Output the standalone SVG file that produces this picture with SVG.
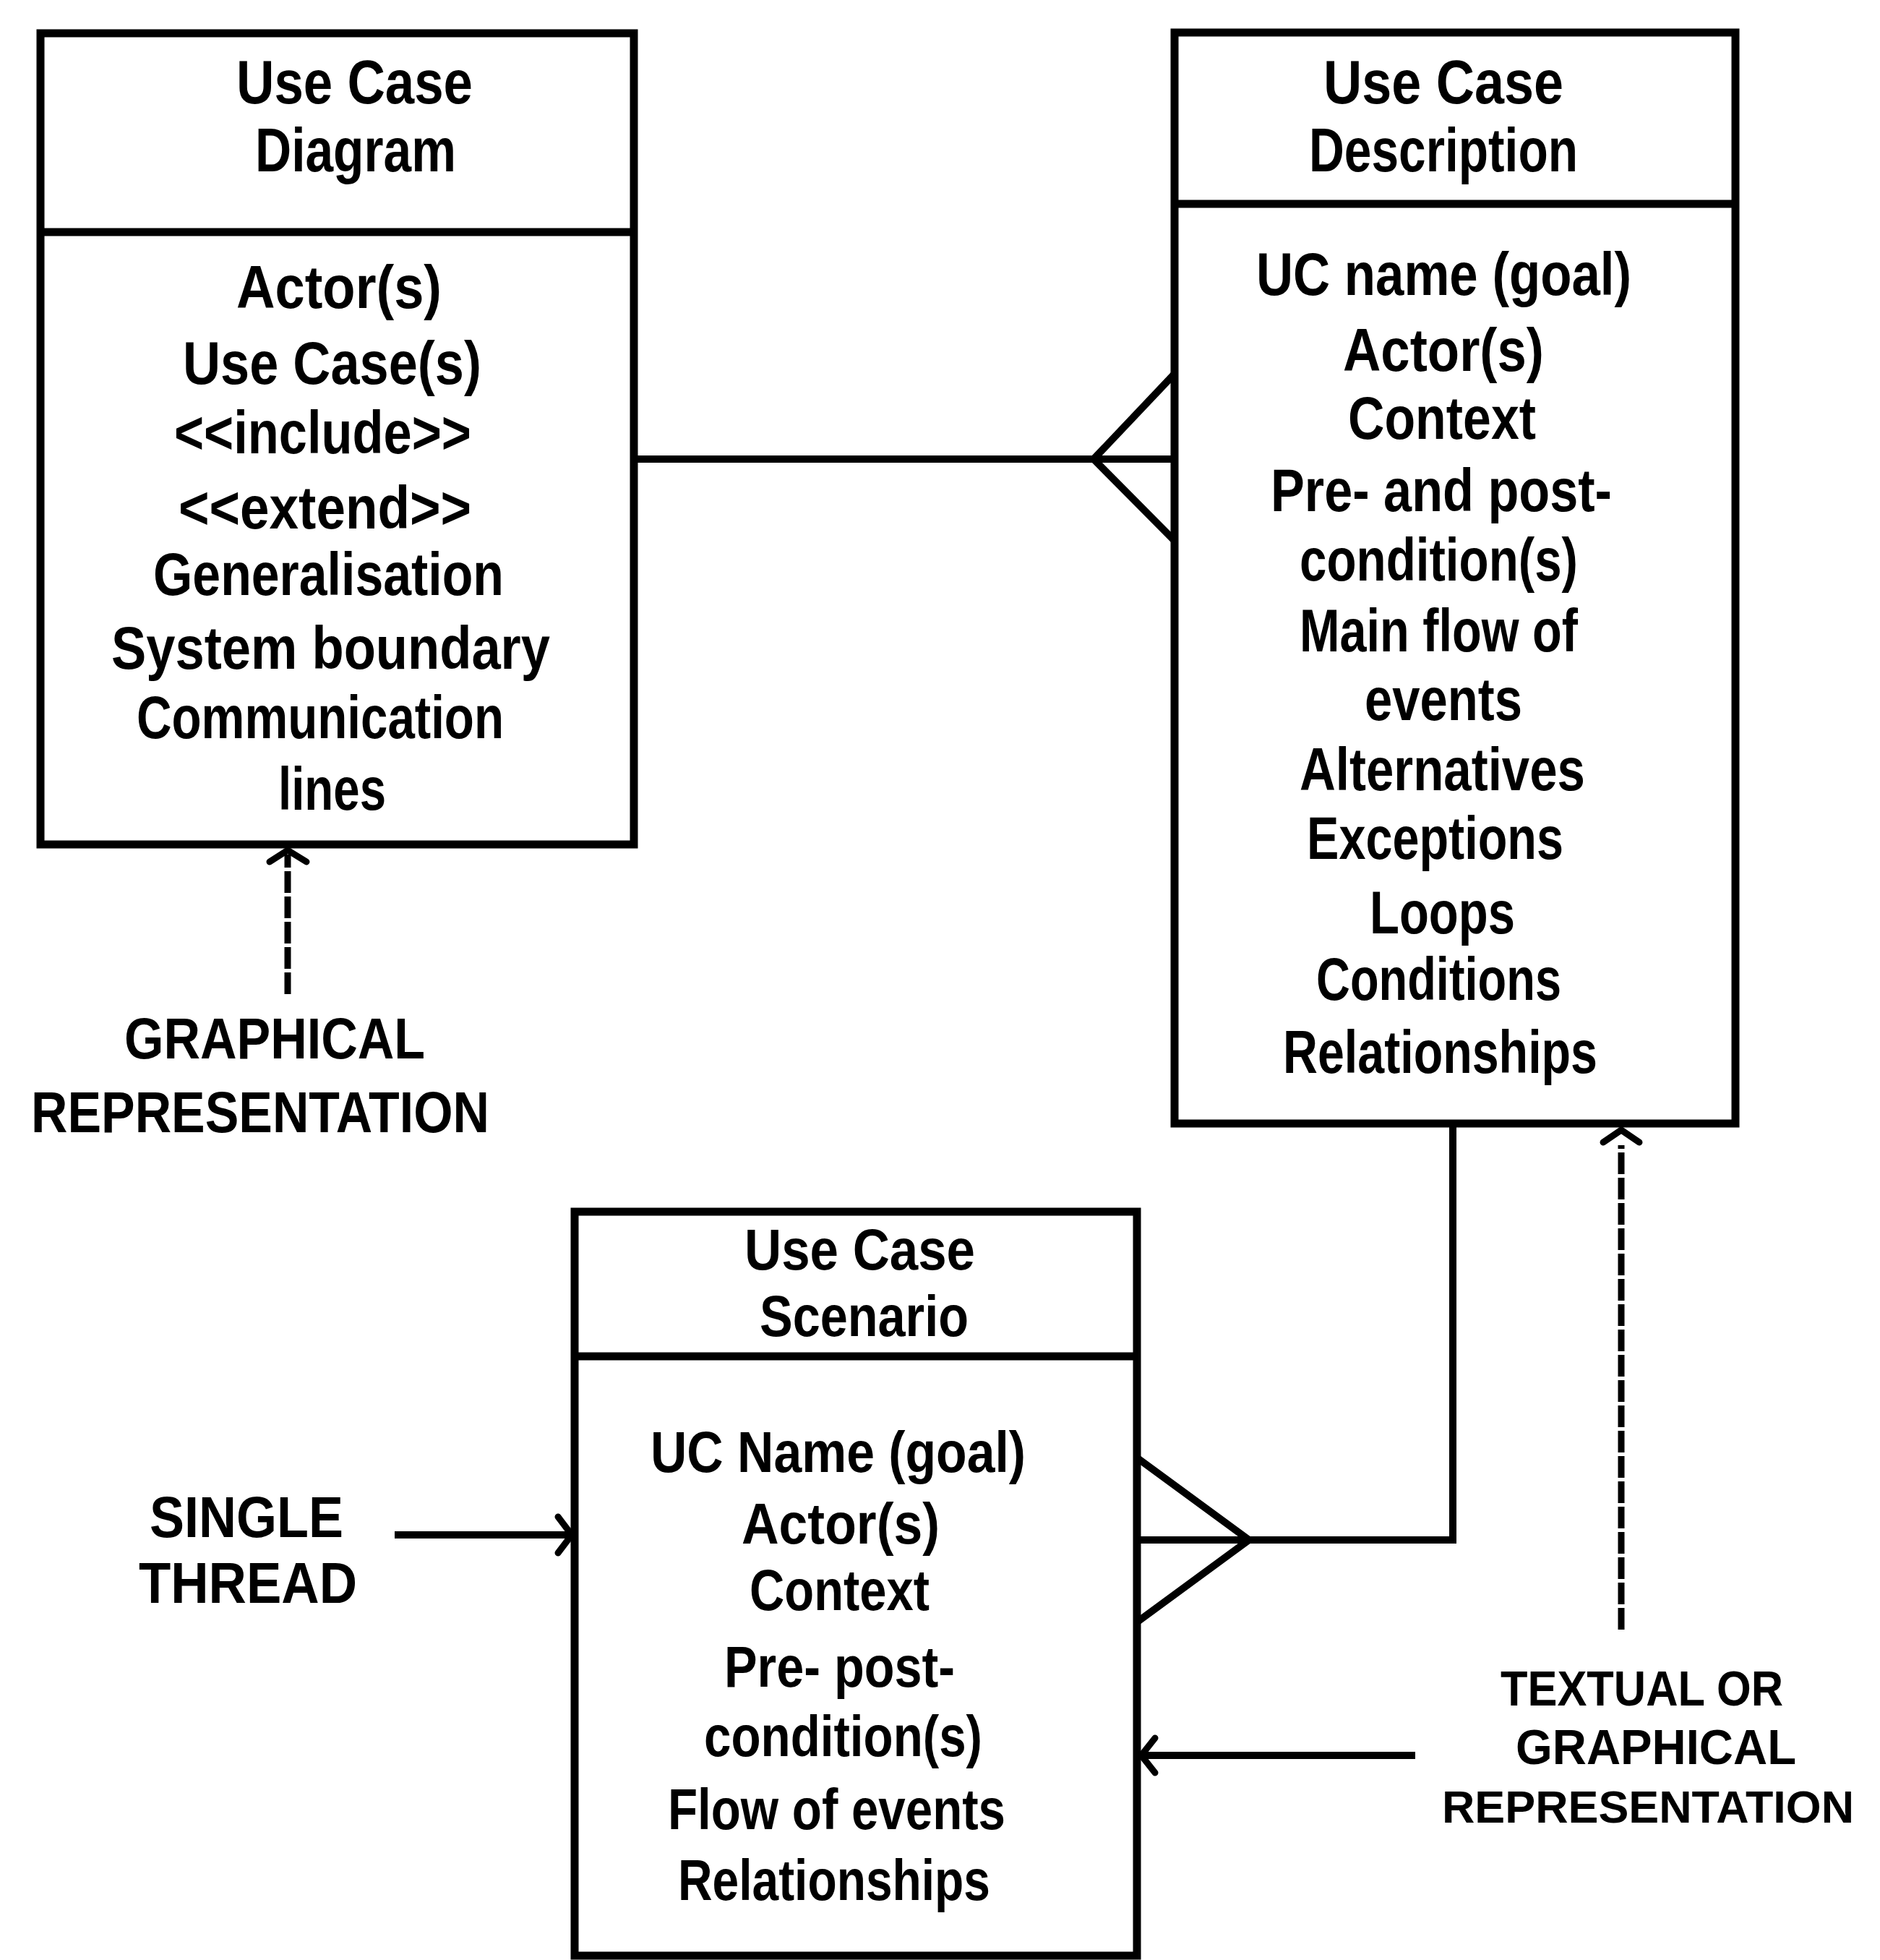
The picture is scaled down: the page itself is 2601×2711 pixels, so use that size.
<svg xmlns="http://www.w3.org/2000/svg" width="2601" height="2711" viewBox="0 0 2601 2711">
<style>
.box{fill:#fff;stroke:#000;stroke-width:11}
.div{stroke:#000;stroke-width:11}
.ln{fill:none;stroke:#000;stroke-width:10;stroke-linecap:square}
.dash{fill:none;stroke:#000;stroke-width:9;stroke-dasharray:30 5}
.ah{fill:none;stroke:#000;stroke-width:9;stroke-linecap:round;stroke-linejoin:miter}
text{font-family:"Liberation Sans",Arial,sans-serif;font-weight:bold;fill:#000}
.h{font-size:86px}
.b{font-size:84px}
.s{font-size:80px}
.l{font-size:80px}
.r{font-size:68px}
.r2{font-size:63px}
</style>
<rect width="2601" height="2711" fill="#fff"/>
<g id="connectors">
  <line class="ln" x1="877" y1="635" x2="1625" y2="635"/>
  <polyline class="ln" points="1622,520 1513,635 1622,745"/>
  <polyline class="ln" points="2010,1554 2010,2130 1573,2130"/>
  <polyline class="ln" points="1578,2020 1728,2130 1578,2240"/>
  <line class="dash" x1="398" y1="1375" x2="398" y2="1182"/>
  <polyline class="ah" points="373,1192 398,1176 424,1192"/>
  <line class="dash" x1="2243" y1="2254" x2="2243" y2="1584"/>
  <polyline class="ah" points="2218,1580 2243,1563 2268,1580"/>
  <line class="ln" x1="551" y1="2123" x2="786" y2="2123"/>
  <polyline class="ah" points="772,2098 791,2123 772,2148"/>
  <line class="ln" x1="1953" y1="2428" x2="1584" y2="2428"/>
  <polyline class="ah" points="1598,2404 1579,2428 1598,2452"/>
</g>
<g id="use-case-diagram">
  <rect class="box" x="56" y="46" width="821" height="1122"/>
  <line class="div" x1="56" y1="321" x2="877" y2="321"/>
  <text class="h" x="327" y="143" textLength="327" lengthAdjust="spacingAndGlyphs">Use Case</text>
  <text class="h" x="353" y="237" textLength="278" lengthAdjust="spacingAndGlyphs">Diagram</text>
  <text class="b" x="327" y="426" textLength="284" lengthAdjust="spacingAndGlyphs">Actor(s)</text>
  <text class="b" x="253" y="531" textLength="413" lengthAdjust="spacingAndGlyphs">Use Case(s)</text>
  <text class="b" x="241" y="627" textLength="411" lengthAdjust="spacingAndGlyphs">&lt;&lt;include&gt;&gt;</text>
  <text class="b" x="247" y="731" textLength="405" lengthAdjust="spacingAndGlyphs">&lt;&lt;extend&gt;&gt;</text>
  <text class="b" x="212" y="823" textLength="485" lengthAdjust="spacingAndGlyphs">Generalisation</text>
  <text class="b" x="154" y="925" textLength="607" lengthAdjust="spacingAndGlyphs">System boundary</text>
  <text class="b" x="189" y="1021" textLength="508" lengthAdjust="spacingAndGlyphs">Communication</text>
  <text class="b" x="385" y="1120" textLength="149" lengthAdjust="spacingAndGlyphs">lines</text>
</g>
<g id="use-case-description">
  <rect class="box" x="1625" y="45" width="776" height="1509"/>
  <line class="div" x1="1625" y1="282" x2="2401" y2="282"/>
  <text class="h" x="1831" y="143" textLength="332" lengthAdjust="spacingAndGlyphs">Use Case</text>
  <text class="h" x="1811" y="237" textLength="372" lengthAdjust="spacingAndGlyphs">Description</text>
  <text class="b" x="1738" y="408" textLength="519" lengthAdjust="spacingAndGlyphs">UC name (goal)</text>
  <text class="b" x="1858" y="513" textLength="278" lengthAdjust="spacingAndGlyphs">Actor(s)</text>
  <text class="b" x="1865" y="607" textLength="260" lengthAdjust="spacingAndGlyphs">Context</text>
  <text class="b" x="1758" y="707" textLength="472" lengthAdjust="spacingAndGlyphs">Pre- and post-</text>
  <text class="b" x="1798" y="803" textLength="385" lengthAdjust="spacingAndGlyphs">condition(s)</text>
  <text class="b" x="1798" y="901" textLength="385" lengthAdjust="spacingAndGlyphs">Main flow of</text>
  <text class="b" x="1888" y="996" textLength="218" lengthAdjust="spacingAndGlyphs">events</text>
  <text class="b" x="1798" y="1093" textLength="395" lengthAdjust="spacingAndGlyphs">Alternatives</text>
  <text class="b" x="1808" y="1188" textLength="355" lengthAdjust="spacingAndGlyphs">Exceptions</text>
  <text class="b" x="1895" y="1291" textLength="201" lengthAdjust="spacingAndGlyphs">Loops</text>
  <text class="b" x="1821" y="1383" textLength="339" lengthAdjust="spacingAndGlyphs">Conditions</text>
  <text class="b" x="1775" y="1484" textLength="435" lengthAdjust="spacingAndGlyphs">Relationships</text>
</g>
<g id="use-case-scenario">
  <rect class="box" x="795" y="1676" width="778" height="1029"/>
  <line class="div" x1="795" y1="1876" x2="1573" y2="1876"/>
  <text class="s" x="1030" y="1756" textLength="319" lengthAdjust="spacingAndGlyphs">Use Case</text>
  <text class="s" x="1051" y="1848" textLength="289" lengthAdjust="spacingAndGlyphs">Scenario</text>
  <text class="s" x="900" y="2036" textLength="519" lengthAdjust="spacingAndGlyphs">UC Name (goal)</text>
  <text class="s" x="1026" y="2135" textLength="274" lengthAdjust="spacingAndGlyphs">Actor(s)</text>
  <text class="s" x="1037" y="2227" textLength="249" lengthAdjust="spacingAndGlyphs">Context</text>
  <text class="s" x="1002" y="2333" textLength="319" lengthAdjust="spacingAndGlyphs">Pre- post-</text>
  <text class="s" x="974" y="2429" textLength="385" lengthAdjust="spacingAndGlyphs">condition(s)</text>
  <text class="s" x="924" y="2530" textLength="467" lengthAdjust="spacingAndGlyphs">Flow of events</text>
  <text class="s" x="938" y="2628" textLength="432" lengthAdjust="spacingAndGlyphs">Relationships</text>
</g>
<g id="label-graphical">
  <text class="l" x="172" y="1464" textLength="416" lengthAdjust="spacingAndGlyphs">GRAPHICAL</text>
  <text class="l" x="43" y="1566" textLength="634" lengthAdjust="spacingAndGlyphs">REPRESENTATION</text>
</g>
<g id="label-single-thread">
  <text class="l" x="207" y="2126" textLength="268" lengthAdjust="spacingAndGlyphs">SINGLE</text>
  <text class="l" x="192" y="2217" textLength="302" lengthAdjust="spacingAndGlyphs">THREAD</text>
</g>
<g id="label-textual">
  <text class="r" x="2076" y="2359" textLength="391" lengthAdjust="spacingAndGlyphs">TEXTUAL OR</text>
  <text class="r" x="2097" y="2440" textLength="388" lengthAdjust="spacingAndGlyphs">GRAPHICAL</text>
  <text class="r2" x="1995" y="2521" textLength="570" lengthAdjust="spacingAndGlyphs">REPRESENTATION</text>
</g>
</svg>
